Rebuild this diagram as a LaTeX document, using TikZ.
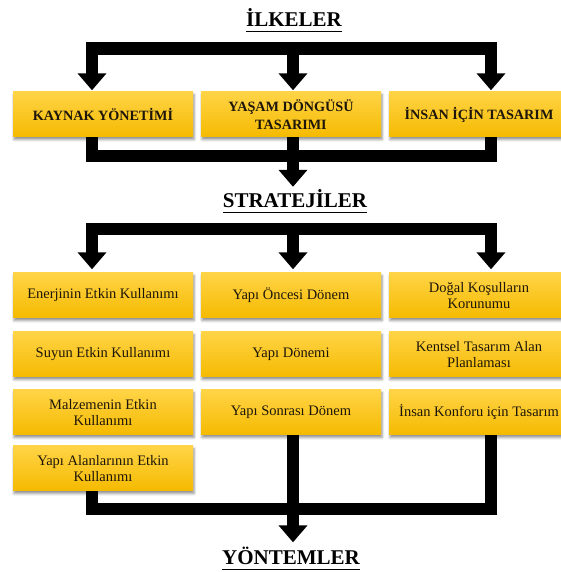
\documentclass[tikz,border=0pt]{standalone}
\usepackage{fontspec}
\setmainfont{Liberation Serif}
\usetikzlibrary{arrows.meta,shadows.blur,backgrounds}

\definecolor{cardtop}{RGB}{255,212,70}
\definecolor{cardbot}{RGB}{245,186,0}
\definecolor{cardtext}{RGB}{30,22,10}

% underline drawn as a thick rule under the whole word
\newcommand\ulword[1]{\setbox0\hbox{#1}\rlap{\rule[-5.5pt]{\wd0}{1.4pt}}\box0}

\tikzset{
  conn/.style={line width=12.5pt, line join=miter, draw=black},
  headtip/.tip={Triangle[length=17pt,width=28pt]},
  card/.style={rectangle, minimum width=180pt, minimum height=45pt,
    inner sep=2pt, align=center, text=cardtext,
    top color=cardtop, bottom color=cardbot,
    blur shadow={shadow xshift=1pt, shadow yshift=-2.5pt,
      shadow blur radius=2.5pt, shadow opacity=45}},
  main/.style={card, font=\fontsize{14.2}{17.5}\selectfont\bfseries},
  sub/.style={card, font=\fontsize{14.5}{16.5}\selectfont},
  heading/.style={anchor=base, inner sep=0pt, font=\fontsize{21}{25}\selectfont\bfseries}
}

\begin{document}
\begin{tikzpicture}[x=1pt,y=1pt]
\useasboundingbox (0,0) rectangle (561,572);
\clip (0,0) rectangle (561,572);

% column lines of the connectors
\coordinate (lx) at (92,0);
\coordinate (cx) at (293,0);
\coordinate (rx) at (491,0);

% headings
\node[heading] (ilk) at (294,545) {\ulword{İLKELER}};
\node[heading] (str) at (295,364) {\ulword{STRATEJİLER}};
\node[heading] (yon) at (291,7) {\ulword{YÖNTEMLER}};

% principles
\node[main] (kaynak) at (103,457.5) {KAYNAK YÖNETİMİ};
\node[main] (yasam)  at (291,457.5) {YAŞAM DÖNGÜSÜ\\TASARIMI};
\node[main] (insan)  at (479,457.5) {İNSAN İÇİN TASARIM};

% strategies, first column
\node[sub] (enerji)  at (103,276.5) {Enerjinin Etkin Kullanımı};
\node[sub] (suyun)   at (103,217.5) {Suyun Etkin Kullanımı};
\node[sub] (malzeme) at (103,159.5) {Malzemenin Etkin\\Kullanımı};
\node[sub] (alan)    at (103,103.5) {Yapı Alanlarının Etkin\\Kullanımı};
% second column
\node[sub] (oncesi)  at (291,276.5) {Yapı Öncesi Dönem};
\node[sub] (donem)   at (291,217.5) {Yapı Dönemi};
\node[sub] (sonra)   at (291,159.5) {Yapı Sonrası Dönem};
% third column
\node[sub] (dogal)   at (479,276.5) {Doğal Koşulların\\Korunumu};
\node[sub] (kentsel) at (479,217.5) {Kentsel Tasarım Alan\\Planlaması};
\node[sub] (konfor)  at (479,159.5) {İnsan Konforu için Tasarım};

\begin{pgfonlayer}{background}
  % principles fan out to the three cards
  \draw[conn, headtip-headtip, shorten <=1.5pt, shorten >=1.5pt]
    (kaynak.north -| lx) |- (cx |- 0,523.5) -| (insan.north -| rx);
  \draw[conn, -headtip, shorten >=1.5pt] (cx |- 0,523.5) -- (yasam.north -| cx);

  % cards gather into the strategies heading
  \draw[conn] (kaynak.south -| lx) |- (cx |- 0,416) -| (insan.south -| rx);
  \draw[conn, -headtip, shorten >=3pt] (yasam.south -| cx) -- (str.north -| cx);

  % strategies fan out to the three columns
  \draw[conn, headtip-headtip, shorten <=3.5pt, shorten >=3.5pt]
    (enerji.north -| lx) |- (cx |- 0,343) -| (dogal.north -| rx);
  \draw[conn, -headtip, shorten >=3.5pt] (cx |- 0,343) -- (oncesi.north -| cx);

  % columns gather into the methods heading
  \draw[conn] (alan.south -| lx) |- (cx |- 0,63) -| (konfor.south -| rx);
  \draw[conn, -headtip, shorten >=5pt] (sonra.south -| cx) -- (yon.north -| cx);
\end{pgfonlayer}
\end{tikzpicture}
\end{document}
